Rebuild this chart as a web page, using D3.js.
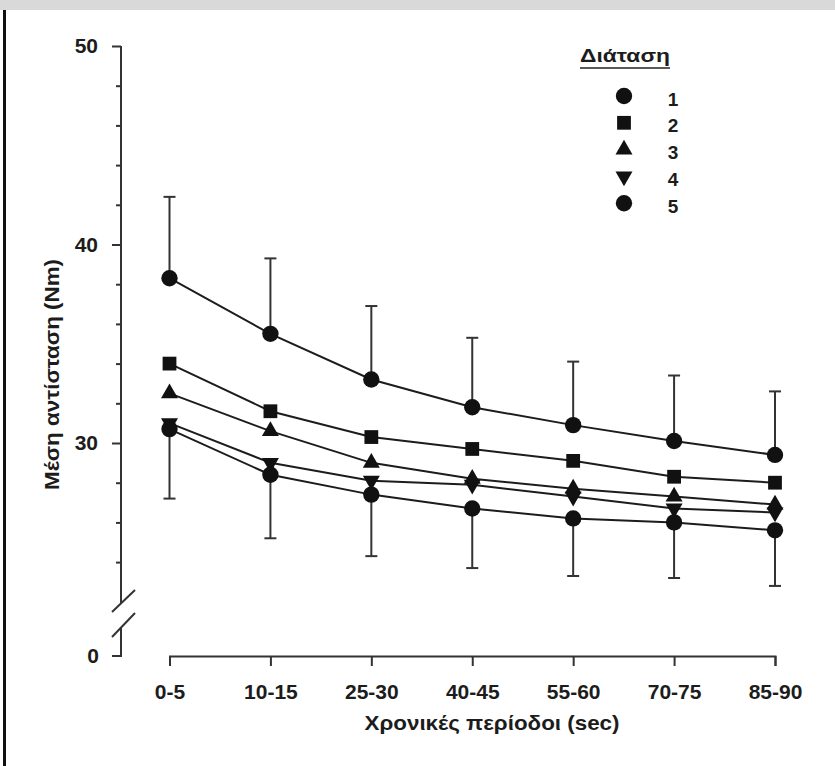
<!DOCTYPE html>
<html>
<head>
<meta charset="utf-8">
<script src="https://cdn.jsdelivr.net/npm/d3@7"></script>
<style>
  body { margin: 0; background: white; }
  text { font-family: "Liberation Sans", Arial, sans-serif; fill: #1c1c1c; }
</style>
</head>
<body>
<div id="container"></div>
<script>
let w = 835;
let h = 766;

// time windows on the x axis
let periods = ["0-5", "10-15", "25-30", "40-45", "55-60", "70-75", "85-90"];

// mean resistance (Nm) for each stretch
let stretch1 = [38.3, 35.5, 33.2, 31.8, 30.9, 30.1, 29.4];
let stretch2 = [34.0, 31.6, 30.3, 29.7, 29.1, 28.3, 28.0];
let stretch3 = [32.5, 30.6, 29.0, 28.2, 27.7, 27.3, 26.9];
let stretch4 = [31.0, 29.0, 28.1, 27.9, 27.3, 26.7, 26.5];
let stretch5 = [30.7, 28.4, 27.4, 26.7, 26.2, 26.0, 25.6];

// standard deviations: drawn up on stretch 1, down on stretch 5
let sdTop = [4.1, 3.8, 3.7, 3.5, 3.2, 3.3, 3.2];
let sdBottom = [3.5, 3.2, 3.1, 3.0, 2.9, 2.8, 2.8];

let legendLabels = ["1", "2", "3", "4", "5"];
let yTicks = [24, 26, 28, 30, 32, 34, 36, 38, 40, 42, 44, 46, 48, 50];

let series = [stretch1, stretch2, stretch3, stretch4, stretch5];
let shapes = ["circle", "square", "up", "down", "circle"];

let viz = d3.select("#container")
  .append("svg")
    .attr("width", w)
    .attr("height", h)
    .style("background-color", "white")
;

// page frame: grey strip on top, black rule at the left
viz.append("rect").attr("x", 0).attr("y", 0).attr("width", w).attr("height", 10).attr("fill", "#d9d9d9");
viz.append("rect").attr("x", 3).attr("y", 10).attr("width", 3).attr("height", h - 10).attr("fill", "#111");

let xScale = d3.scalePoint().domain(periods).range([169.5, 775]);
let yScale = d3.scaleLinear().domain([30, 50]).range([443, 46]);
let axisX = 121;
let baseY = 656;

function symbolPath(kind){
  if (kind == "circle") return d3.symbol().type(d3.symbolCircle).size(210)();
  if (kind == "square") return d3.symbol().type(d3.symbolSquare).size(190)();
  return d3.symbol().type(d3.symbolTriangle).size(125)();
}
function symbolTransform(kind, x, y){
  if (kind == "down") return "translate(" + x + "," + y + ") rotate(180)";
  return "translate(" + x + "," + y + ")";
}

// y axis
let yAxis = viz.append("g")
  .attr("transform", "translate(" + axisX + ",0)")
  .call(d3.axisLeft(yScale).tickValues(yTicks).tickSize(5).tickPadding(8)
    .tickFormat(function(d){ return d % 10 == 0 ? d : ""; }));
yAxis.select(".domain").remove();
yAxis.selectAll(".tick line")
  .attr("x2", function(d){ return d % 10 == 0 ? -9 : -5; })
  .attr("stroke", "#333").attr("stroke-width", 2);
yAxis.selectAll(".tick text")
  .attr("x", -23)
  .style("font-size", "21px").style("font-weight", "bold");

let axisLine = d3.line();
viz.append("path").attr("d", axisLine([[axisX, yScale(50)], [axisX, 603]]))
  .attr("stroke", "#333").attr("stroke-width", 2).attr("fill", "none");
viz.append("path").attr("d", axisLine([[axisX, 627], [axisX, baseY], [axisX - 9, baseY]]))
  .attr("stroke", "#333").attr("stroke-width", 2).attr("fill", "none");
// axis break marks
viz.append("path").attr("d", axisLine([[112, 612], [135, 590]]))
  .attr("stroke", "#333").attr("stroke-width", 2);
viz.append("path").attr("d", axisLine([[112, 637], [135, 613]]))
  .attr("stroke", "#333").attr("stroke-width", 2);
viz.append("text").attr("x", 99).attr("y", baseY).attr("dy", "0.35em")
  .attr("text-anchor", "end").style("font-size", "21px").style("font-weight", "bold").text("0");

// x axis
let xAxis = viz.append("g")
  .attr("transform", "translate(0," + baseY + ")")
  .call(d3.axisBottom(xScale).tickSize(10).tickSizeOuter(10).tickPadding(18));
xAxis.select(".domain").attr("stroke", "#333").attr("stroke-width", 2);
xAxis.selectAll(".tick line").attr("stroke", "#333").attr("stroke-width", 2);
xAxis.selectAll(".tick text")
  .style("font-size", "21px").style("font-weight", "bold").attr("fill", "#1c1c1c");

// axis titles
viz.append("text")
  .attr("x", 492).attr("y", 730)
  .attr("text-anchor", "middle")
  .attr("textLength", 255).attr("lengthAdjust", "spacingAndGlyphs")
  .style("font-size", "21px").style("font-weight", "bold")
  .text("Χρονικές περίοδοι (sec)");

viz.append("text")
  .attr("transform", "translate(59,374.5) rotate(-90)")
  .attr("text-anchor", "middle")
  .attr("textLength", 231).attr("lengthAdjust", "spacingAndGlyphs")
  .style("font-size", "20px").style("font-weight", "bold")
  .text("Μέση αντίσταση (Νm)");

// error bars
function errorBar(values, sds, dir){
  let g = viz.append("g");
  periods.forEach(function(p, i){
    let x = xScale(p);
    let y0 = yScale(values[i]);
    let y1 = yScale(values[i] + dir * sds[i]);
    g.append("line").attr("x1", x).attr("x2", x).attr("y1", y0).attr("y2", y1)
      .attr("stroke", "#333").attr("stroke-width", 2);
    g.append("line").attr("x1", x - 6).attr("x2", x + 6).attr("y1", y1).attr("y2", y1)
      .attr("stroke", "#333").attr("stroke-width", 2);
  });
}
errorBar(stretch1, sdTop, 1);
errorBar(stretch5, sdBottom, -1);

// lines
let line = d3.line()
  .x(function(d, i){ return xScale(periods[i]); })
  .y(function(d){ return yScale(d); });

series.forEach(function(values, s){
  viz.append("path").attr("d", line(values))
    .attr("fill", "none").attr("stroke", "#1c1c1c").attr("stroke-width", 2);
});

// markers
series.forEach(function(values, s){
  viz.selectAll(".m" + s).data(values).enter()
    .append("path")
      .attr("class", "m" + s)
      .attr("d", symbolPath(shapes[s]))
      .attr("transform", function(d, i){ return symbolTransform(shapes[s], xScale(periods[i]), yScale(d)); })
      .attr("fill", "#111");
});

// legend
viz.append("text")
  .attr("x", 580).attr("y", 62)
  .attr("textLength", 90).attr("lengthAdjust", "spacingAndGlyphs")
  .style("font-size", "18px").style("font-weight", "bold")
  .text("Διάταση");
viz.append("line").attr("x1", 580).attr("x2", 670).attr("y1", 68).attr("y2", 68)
  .attr("stroke", "#222").attr("stroke-width", 1.5);

let legendRows = viz.selectAll(".legendrow").data(legendLabels).enter()
  .append("g")
  .classed("legendrow", true)
  .attr("transform", function(d, i){ return "translate(0," + (96 + i * 26.8) + ")"; });
legendRows.append("path")
  .attr("d", function(d, i){ return symbolPath(shapes[i]); })
  .attr("transform", function(d, i){ return symbolTransform(shapes[i], 624, 0); })
  .attr("fill", "#111");
legendRows.append("text")
  .attr("x", 673).attr("y", 3).attr("dy", "0.35em")
  .attr("text-anchor", "middle")
  .style("font-size", "19px").style("font-weight", "bold")
  .text(function(d){ return d; });
</script>
</body>
</html>
